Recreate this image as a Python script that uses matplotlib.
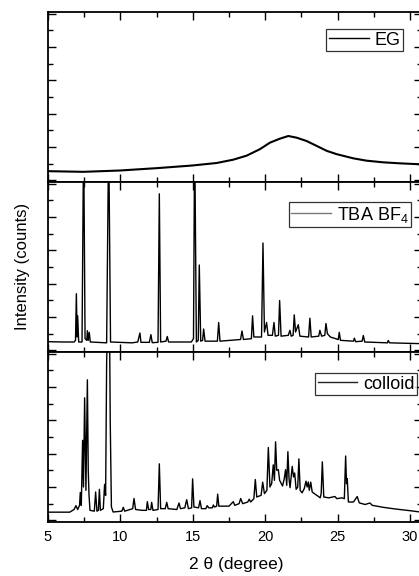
import matplotlib
matplotlib.use("Agg")
import matplotlib.pyplot as plt
from matplotlib.lines import Line2D
from matplotlib.ticker import MultipleLocator

plt.rcParams['font.family'] = ['Liberation Sans', 'DejaVu Sans']
plt.rcParams['mathtext.default'] = 'regular'

# EG: broad amorphous halo
eg_x = [5.0, 7.44, 9.97, 12.5, 14.97, 16.65, 17.8, 18.72, 19.64, 20.33, 21.02, 21.6,
        22.17, 22.86, 23.55, 24.25, 24.94, 26.09, 27.0, 28.16, 29.31, 30.8]
eg_y = [5.5, 5.1, 5.9, 7.3, 8.9, 10.4, 12.4, 14.8, 18.7, 22.6, 25.0, 26.6,
        25.6, 23.6, 20.7, 17.7, 15.7, 13.2, 11.8, 10.8, 10.2, 9.6]

# TBA BF4: sharp crystalline peaks (values > 100 run off the panel)
tba_x = [5.0, 6.0, 6.8, 6.9, 6.96, 7.01, 7.05, 7.12, 7.35, 7.46, 7.56, 7.68, 7.72, 7.78,
         7.85, 7.92, 9.05, 9.19, 9.32, 10.8, 11.2, 11.35, 11.42, 12.0, 12.11, 12.2, 12.6,
         12.69, 12.78, 13.15, 13.24, 13.33, 14.9, 15.05, 15.13, 15.25, 15.38, 15.45, 15.55,
         15.68, 15.75, 15.85, 16.7, 16.79, 16.88, 18.3, 18.4, 18.5, 19.05, 19.13, 19.22,
         19.75, 19.85, 19.95, 20.1, 20.2, 20.5, 20.61, 20.7, 20.92, 21.0, 21.1, 21.6, 21.71,
         21.8, 21.93, 22.01, 22.1, 22.29, 22.4, 23.0, 23.09, 23.18, 23.7, 23.78, 23.9,
         24.12, 24.2, 24.3, 24.5, 25.05, 25.12, 25.2, 26.1, 26.16, 26.25, 26.7, 26.78,
         26.88, 28.45, 28.5, 28.6, 30.8]
tba_y = [5.2, 5.0, 5.0, 6.0, 34.0, 8.0, 20.7, 5.0, 5.0, 130, 7.0, 6.0, 11.8, 6.0,
         10.8, 5.0, 4.5, 130, 5.0, 4.5, 5.0, 10.4, 4.8, 4.8, 9.4, 4.6, 4.8,
         93.9, 5.0, 5.5, 8.3, 5.0, 5.0, 7.0, 130, 5.0, 6.0, 51.2, 5.5,
         6.0, 12.8, 5.5, 5.5, 16.7, 5.5, 6.5, 11.6, 6.5, 7.0, 20.7, 8.0,
         8.0, 64.4, 11.0, 16.7, 9.0, 9.0, 16.7, 8.5, 9.0, 29.9, 8.5, 9.0, 12.0,
         8.5, 9.0, 21.3, 11.0, 15.4, 8.5, 8.0, 19.3, 8.0, 8.5, 12.0, 8.5,
         9.0, 16.1, 10.0, 8.0, 6.5, 10.8, 6.0, 5.5, 7.3, 5.2, 5.5, 8.9,
         5.0, 4.5, 5.9, 4.5, 4.0]

# colloid
col_x = [5.0, 6.5, 6.8, 6.93, 7.05, 7.18, 7.23, 7.3, 7.39, 7.45, 7.53, 7.62, 7.72, 7.78,
         7.83, 7.9, 8.2, 8.29, 8.38, 8.48, 8.55, 8.62, 8.82, 8.91, 8.98, 9.05, 9.14, 9.24,
         9.3, 9.38, 9.5, 10.1, 10.2, 10.3, 10.85, 10.94, 11.05, 11.5, 11.8, 11.86, 11.95,
         12.1, 12.16, 12.25, 12.6, 12.69, 12.78, 13.1, 13.2, 13.3, 13.9, 14.05, 14.15,
         14.45, 14.58, 14.7, 14.92, 14.99, 15.08, 15.4, 15.5, 15.6, 15.9, 16.0, 16.1,
         16.35, 16.42, 16.5, 16.65, 16.72, 16.8, 17.5, 17.8, 17.9, 18.2, 18.31, 18.45,
         18.8, 18.9, 19.0, 19.22, 19.32, 19.42, 19.72, 19.83, 19.95, 20.12, 20.22, 20.33,
         20.45, 20.56, 20.64, 20.72, 20.8, 20.91, 21.0, 21.2, 21.32, 21.41, 21.49, 21.57,
         21.65, 21.72, 21.87, 21.96, 22.04, 22.14, 22.25, 22.33, 22.42, 22.55, 22.7, 22.82,
         22.9, 22.98, 23.05, 23.15, 23.25, 23.4, 23.65, 23.8, 23.87, 23.95, 24.05, 24.4,
         24.82, 24.95, 25.3, 25.47, 25.56, 25.62, 25.67, 25.75, 26.1, 26.36, 26.5, 26.9,
         27.24, 27.4, 28.16, 29.0, 30.0, 30.8]
col_y = [4.9, 4.9, 6.5, 8.8, 6.5, 9.0, 16.7, 9.0, 48.0, 20.0, 73.5, 18.0, 84.3, 30.0,
         15.7, 6.0, 5.5, 17.0, 5.5, 6.0, 18.6, 6.0, 7.0, 21.6, 15.0, 94.0, 130, 130,
         58.8, 8.0, 5.0, 5.5, 7.8, 5.5, 7.0, 13.1, 6.5, 6.0, 6.0, 11.2, 6.5,
         6.5, 10.8, 6.0, 6.5, 33.9, 7.0, 7.0, 10.8, 7.0, 6.5, 10.4, 7.0,
         7.5, 12.4, 7.0, 7.5, 24.9, 8.0, 7.5, 11.8, 7.0, 7.0, 8.8, 7.5,
         7.5, 9.2, 8.0, 8.5, 15.7, 8.5, 8.5, 11.2, 9.0, 10.0, 13.1, 10.0,
         11.0, 12.7, 11.0, 13.0, 24.5, 14.0, 15.0, 22.9, 16.0, 18.0, 43.7, 20.0,
         22.0, 33.3, 24.0, 47.1, 30.0, 30.4, 24.0, 20.6, 25.0, 30.4, 21.0, 41.2,
         25.0, 19.6, 32.4, 26.0, 28.4, 18.6, 20.0, 36.9, 18.0, 16.5, 19.0, 23.5,
         20.0, 23.0, 18.0, 22.9, 17.0, 16.0, 14.5, 13.5, 16.0, 35.1, 14.0, 13.5,
         14.3, 13.0, 13.5, 13.0, 38.6, 22.0, 25.0, 11.0, 11.0, 14.3, 10.5, 9.5,
         10.4, 9.0, 7.8, 6.8, 5.8, 4.9]

labels = ['EG', 'TBA BF$_4$', 'colloid']
legend_colors = ['black', '#7a7a7a', '#222222']

fig = plt.figure(figsize=(4.19, 5.76), dpi=100)
left = 48 / 419
width = (421.5 - 48) / 419
h = 170 / 576
bottoms = [(576 - 182) / 576, (576 - 352) / 576, (576 - 522) / 576]
# legend upper-right corners in pixels of the figure
legend_px = [(403, 29), (411, 202), (417, 373)]
panel_top_px = [12, 182, 352]
series = [(eg_x, eg_y, 1.5), (tba_x, tba_y, 1.0), (col_x, col_y, 1.0)]

for i, (xs, ys, lw) in enumerate(series):
    ax = fig.add_axes([left, bottoms[i], width, h])
    ax.plot(xs, ys, color='black', lw=lw)
    ax.set_xlim(5, 30.8)
    ax.set_ylim(-1, 101)
    ax.xaxis.set_major_locator(MultipleLocator(5))
    ax.xaxis.set_minor_locator(MultipleLocator(2.5))
    ax.yaxis.set_major_locator(MultipleLocator(20))
    ax.yaxis.set_minor_locator(MultipleLocator(10))
    ax.tick_params(which='both', direction='in', top=True, right=True, width=1.0)
    ax.tick_params(which='major', length=5.5)
    ax.tick_params(which='minor', length=3.5)
    ax.tick_params(axis='y', labelleft=False)
    ax.tick_params(axis='x', labelbottom=(i == 2), labelsize=10.5, pad=6)
    for s in ax.spines.values():
        s.set_linewidth(1.3)
    lx, ly = legend_px[i]
    anchor = ((lx - 48) / (421.5 - 48), 1 - (ly - panel_top_px[i]) / 170)
    handle = Line2D([], [], color=legend_colors[i], lw=1.0)
    leg = ax.legend([handle], [labels[i]], loc='upper right',
                    bbox_to_anchor=anchor, borderaxespad=0,
                    fontsize=13, frameon=True, fancybox=False, borderpad=0.15,
                    handlelength=2.2, handletextpad=0.3)
    leg.get_frame().set_edgecolor('black')
    leg.get_frame().set_linewidth(0.9)

fig.text(22 / 419, 1 - 266 / 576, 'Intensity (counts)', rotation=90,
         ha='center', va='center', fontsize=12)
fig.text(236 / 419, 1 - 564 / 576, '2 \u03b8 (degree)', ha='center', va='center',
         fontsize=12.5)

fig.savefig('out.png', dpi=100)
